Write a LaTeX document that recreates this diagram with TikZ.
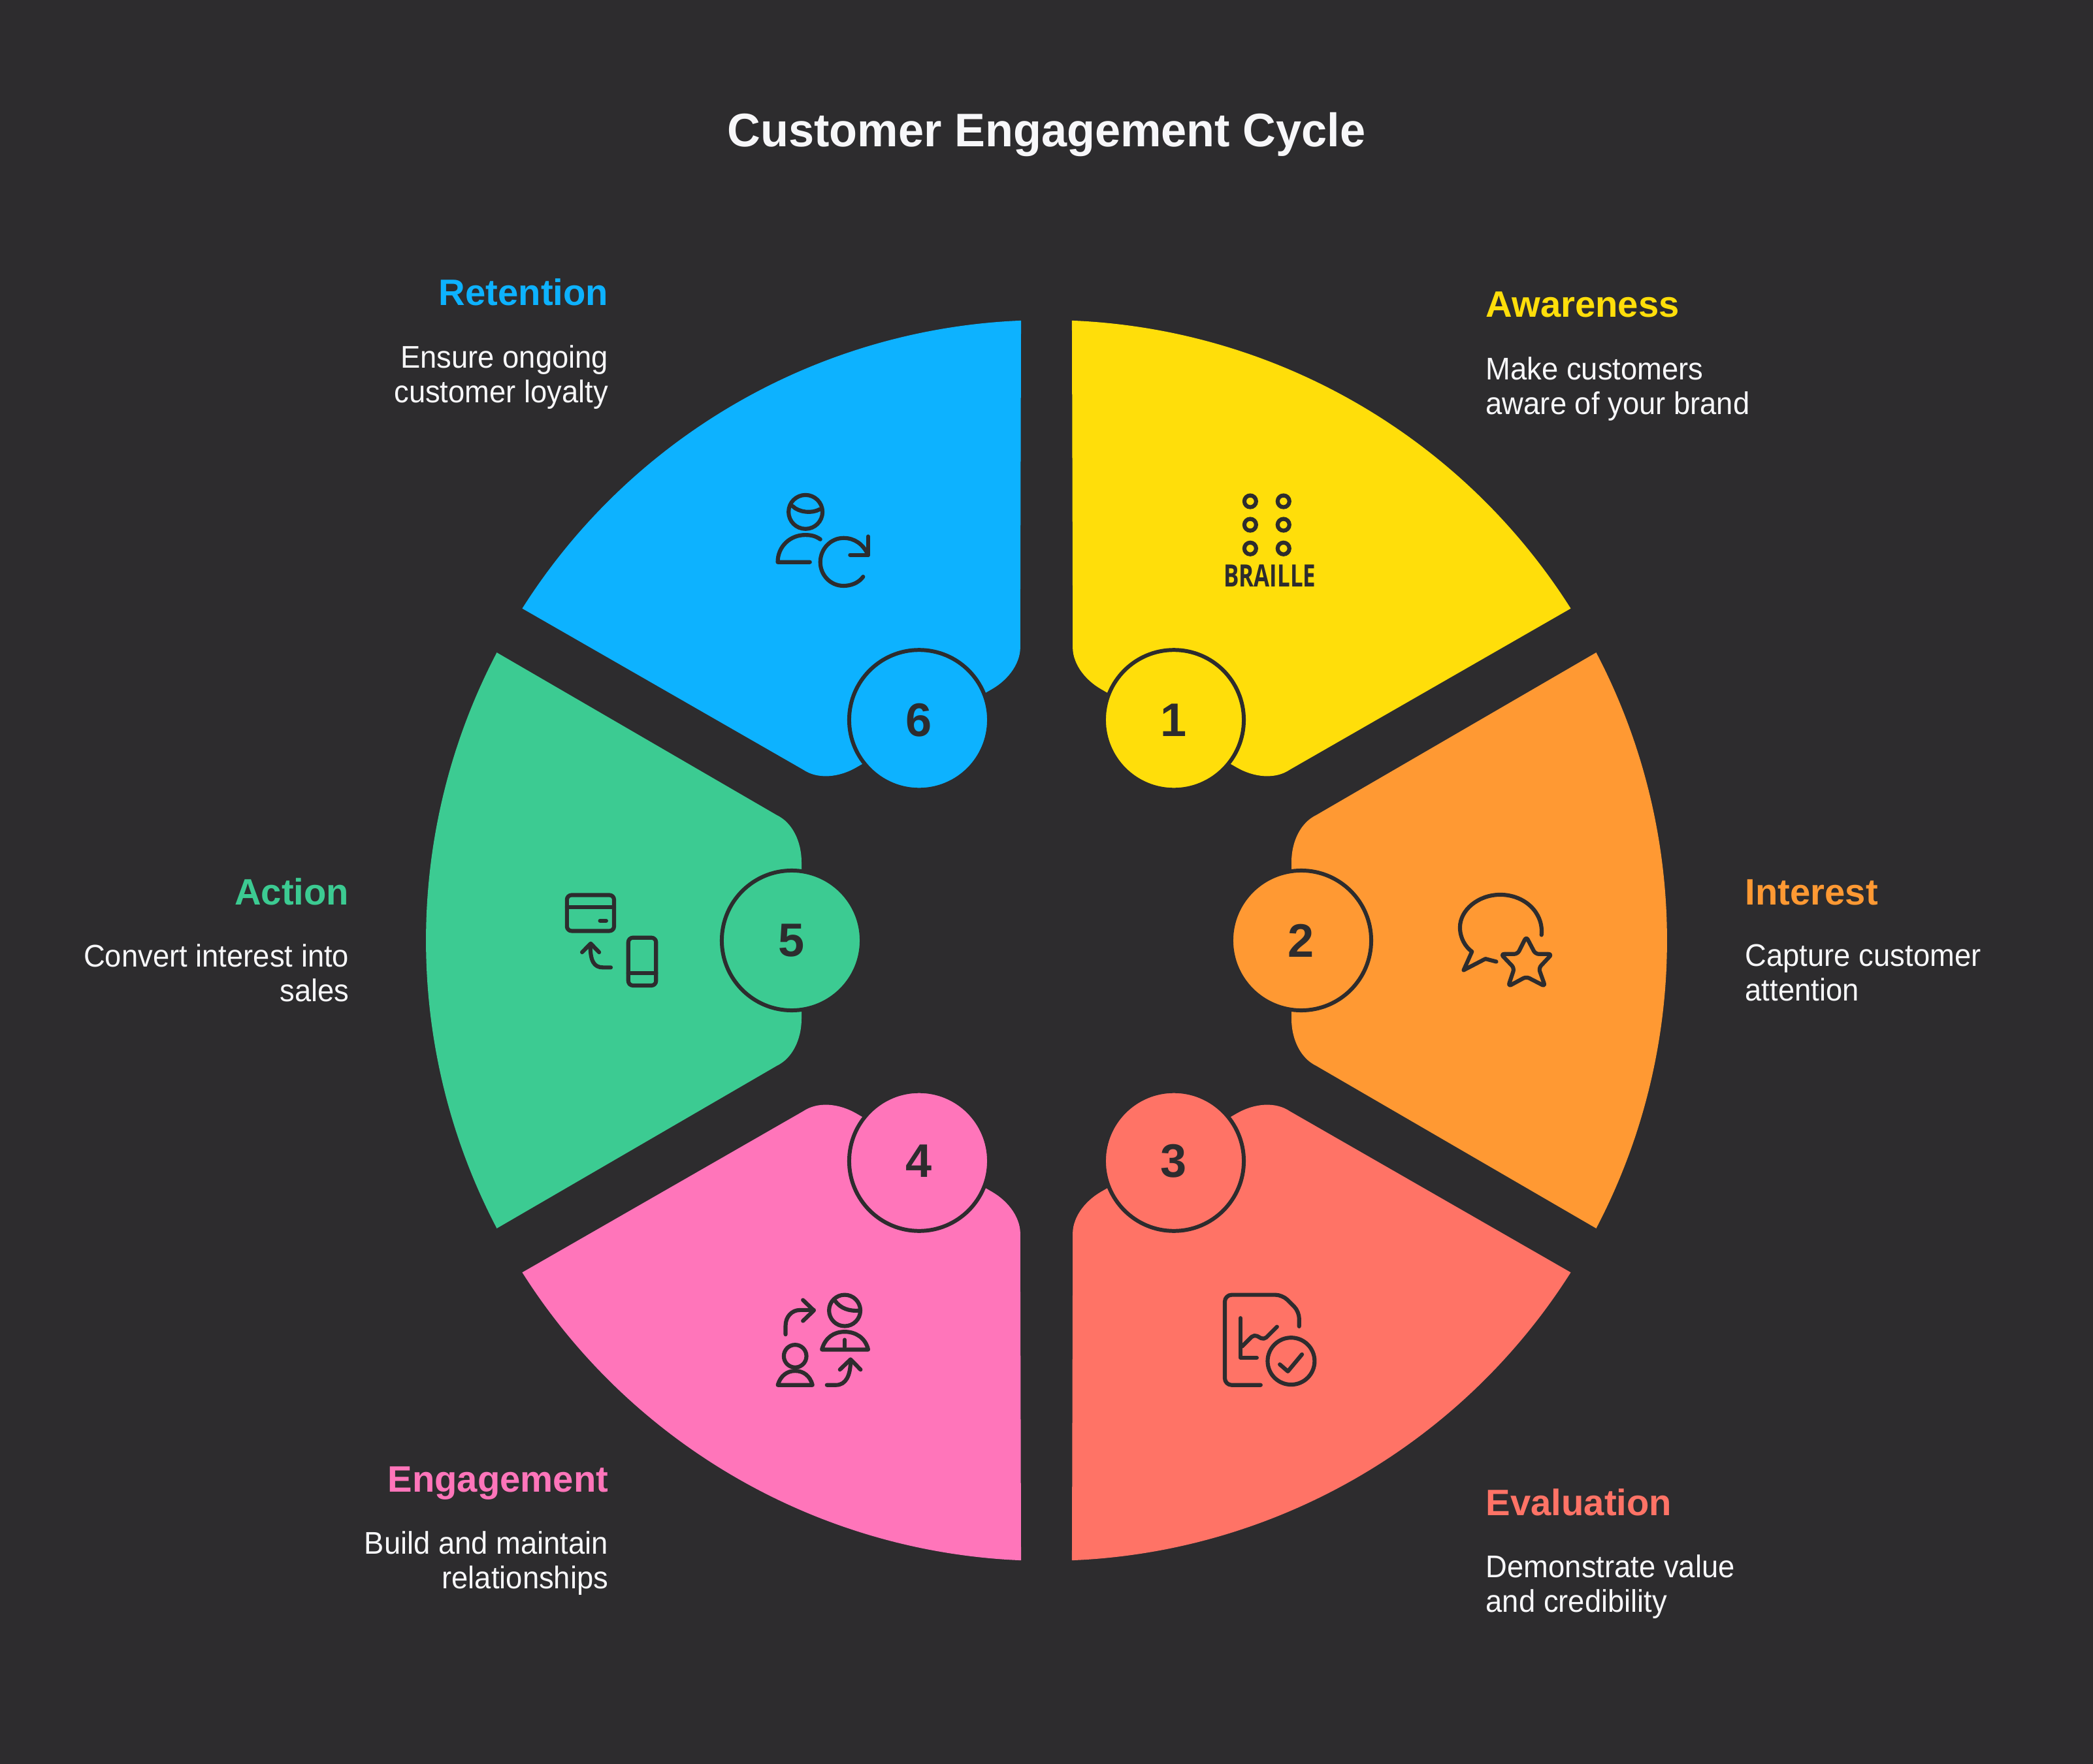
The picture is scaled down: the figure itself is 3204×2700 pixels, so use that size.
\documentclass[tikz,border=0pt]{standalone}
\usepackage{fontspec}
\setmainfont{Liberation Sans}
\newfontfamily\titlefont[FakeStretch=0.975]{Liberation Sans}
\newfontfamily\descfont[FakeStretch=0.945]{Liberation Sans}
\newfontfamily\braillefont[FakeStretch=0.74]{Open Sans}
\usetikzlibrary{positioning}
\definecolor{ink}{HTML}{2D2C2E}
\definecolor{paper}{HTML}{F7F7F9}
\definecolor{awarecol}{HTML}{FFDE0A}
\definecolor{interestcol}{HTML}{FF9933}
\definecolor{evalcol}{HTML}{FF7366}
\definecolor{engagecol}{HTML}{FF75BA}
\definecolor{actioncol}{HTML}{3CCB92}
\definecolor{retaincol}{HTML}{0DB2FF}
\tikzset{%
  titletext/.style = {inner sep=0pt,text=paper,font=\titlefont\fontsize{20.5}{25}\selectfont\bfseries},
  headleft/.style = {inner sep=0pt,anchor=base west,font=\fontsize{16}{20}\selectfont\bfseries},
  headright/.style = {inner sep=0pt,anchor=base east,font=\fontsize{16}{20}\selectfont\bfseries},
  descleft/.style = {inner sep=0pt,text=paper,align=left,execute at begin node=\rule{0pt}{10pt},
        font=\descfont\fontsize{13.66}{15.2}\selectfont},
  descright/.style = {inner sep=0pt,text=paper,align=right,execute at begin node=\rule{0pt}{10pt},
        font=\descfont\fontsize{13.66}{15.2}\selectfont},
  numcirc/.style = {circle,draw=ink,line width=1.7pt,minimum size=2.14cm,inner sep=0pt,
        text=ink,font=\fontsize{20.5}{25}\selectfont\bfseries},
  iconline/.style = {draw=ink,line width=1.75pt,line cap=round,line join=round},
  ringline/.style = {draw=ink,line width=1.75pt},
  zoomed/.style = {x=0.00333cm,y=-0.00333cm}
}

\begin{document}
\begin{tikzpicture}[x=0.01cm,y=0.01cm,node distance=1cm and 1cm]
   \useasboundingbox (-1602,-1260) rectangle (1602,1440);
   \fill[ink] (-1620,-1280) rectangle (1620,1460);

   \foreach \ang/\col/\num in {60/awarecol/1,0/interestcol/2,-60/evalcol/3,
        -120/engagecol/4,180/actioncol/5,120/retaincol/6}{
     \fill[\col,rotate=\ang] (413,192) -- (27.65:950)
        arc[start angle=27.65,end angle=-27.65,radius=950] -- (413,-192)
        .. controls (388,-180) and (375,-150) .. (375,-120) -- (375,120)
        .. controls (375,150) and (388,180) .. (413,192) -- cycle;
     \node[numcirc,fill=\col] (num-\num) at (\ang:390) {\num};
   }

   \node[titletext,anchor=base] (title) at (0,1215) {Customer Engagement Cycle};

   \node[headleft,text=awarecol] (aware-head) at (672,954) {Awareness};
   \node[descleft,below=17pt of aware-head.base west,anchor=north west] (aware-desc) {Make customers\\aware of your brand};
   \node[headleft,text=interestcol] (interest-head) at (1069,55) {Interest};
   \node[descleft,below=17pt of interest-head.base west,anchor=north west] (interest-desc) {Capture customer\\attention};
   \node[headleft,text=evalcol] (eval-head) at (672,-880) {Evaluation};
   \node[descleft,below=17pt of eval-head.base west,anchor=north west] (eval-desc) {Demonstrate value\\and credibility};
   \node[headright,text=engagecol] (engage-head) at (-670,-844) {Engagement};
   \node[descright,below=17pt of engage-head.base east,anchor=north east] (engage-desc) {Build and maintain\\relationships};
   \node[headright,text=actioncol] (action-head) at (-1067,55) {Action};
   \node[descright,below=17pt of action-head.base east,anchor=north east] (action-desc) {Convert interest into\\sales};
   \node[headright,text=retaincol] (retain-head) at (-670,972) {Retention};
   \node[descright,below=17pt of retain-head.base east,anchor=north east] (retain-desc) {Ensure ongoing\\customer loyalty};

   \begin{scope}[shift={(238,720)},zoomed]
     \foreach \px in {222,375}{
       \foreach \py in {143,251,360}{
         \draw[ringline] (\px,\py) circle[radius=27];
       }
     }
     \node[inner sep=0pt,text=ink,font=\braillefont\fontsize{13.4}{16}\selectfont\bfseries] (braille) at (312,487) {BRAILLE};
   \end{scope}

   \begin{scope}[shift={(598,100)},zoomed]
     \draw[iconline] (480,275) .. controls (490,170) and (400,90) .. (290,90)
        .. controls (190,90) and (105,160) .. (105,240)
        .. controls (105,290) and (130,330) .. (160,352) -- (122,437) -- (222,385) -- (272,398);
     \draw[iconline,rounded corners=1.5pt] (410,283) -- (452,363) -- (528,363) -- (467,428) -- (497,512)
        -- (410,467) -- (327,512) -- (355,428) -- (293,363) -- (370,363) -- cycle;
   \end{scope}

   \begin{scope}[shift={(238,-520)},zoomed]
     \draw[iconline,rounded corners=3pt] (270,483) -- (105,483) -- (105,68) -- (370,68) -- (447,145) -- (447,213);
     \draw[iconline] (177,175) -- (177,357) -- (252,357);
     \draw[iconline,rounded corners=1.5pt] (185,305) -- (240,250) -- (285,275) -- (345,215);
     \draw[iconline] (410,373) circle[radius=108];
     \draw[iconline] (358,388) -- (395,420) -- (460,342);
   \end{scope}

   \begin{scope}[shift={(-462,-500)},zoomed]
     \draw[iconline] (188,310) -- (188,270) .. controls (188,230) and (215,198) .. (255,198) -- (318,198);
     \draw[iconline] (268,152) -- (318,200) -- (268,248);
     \draw[iconline] (460,200) circle[radius=72];
     \draw[iconline] (415,155) .. controls (440,190) and (480,205) .. (530,200);
     \draw[iconline] (355,380) .. controls (370,325) and (410,298) .. (460,298)
        .. controls (510,298) and (555,325) .. (568,380) -- cycle;
     \draw[iconline] (460,335) -- (460,368);
     \draw[iconline] (232,410) circle[radius=52];
     \draw[iconline] (152,543) .. controls (165,500) and (195,478) .. (232,478)
        .. controls (270,478) and (300,500) .. (312,543) -- cycle;
     \draw[iconline] (378,543) -- (420,543) .. controls (465,543) and (487,500) .. (487,430);
     \draw[iconline] (438,472) -- (487,425) -- (533,472);
   \end{scope}

   \begin{scope}[shift={(-802,160)},x=0.00357cm,y=-0.00333cm]
     \draw[iconline,rounded corners=2pt] (190,272) rectangle (392,437);
     \draw[iconline] (190,327) -- (392,327);
     \draw[iconline] (332,390) -- (358,390);
     \draw[iconline] (378,605) -- (345,605) .. controls (305,605) and (290,575) .. (290,500);
     \draw[iconline] (255,535) -- (292,495) -- (328,535);
     \draw[iconline,rounded corners=2pt] (453,468) rectangle (572,688);
     \draw[iconline] (453,632) -- (572,632);
   \end{scope}

   \begin{scope}[shift={(-502,740)},zoomed]
     \draw[iconline] (400,252) circle[radius=78];
     \draw[iconline] (340,225) .. controls (370,255) and (430,260) .. (465,240);
     \draw[iconline] (468,378) .. controls (445,362) and (425,358) .. (398,358)
        .. controls (330,358) and (272,410) .. (272,483) -- (420,483);
     \draw[iconline] (665,550) .. controls (645,578) and (610,592) .. (575,592)
        .. controls (515,592) and (468,543) .. (468,483)
        .. controls (468,423) and (515,372) .. (575,372)
        .. controls (625,372) and (665,400) .. (688,450);
     \draw[iconline] (688,365) -- (688,450) -- (605,450);
   \end{scope}
\end{tikzpicture}
\end{document}
